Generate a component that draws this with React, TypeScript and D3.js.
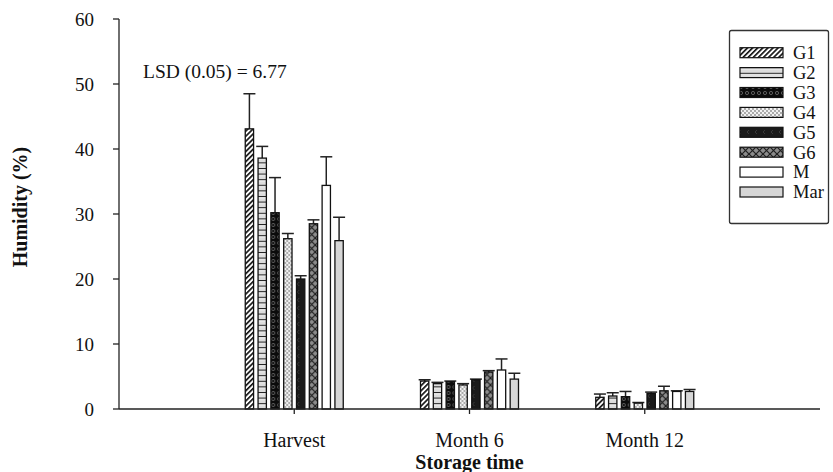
import React from 'react';
import * as d3 from 'd3';

// storage times on the x axis
const categories = ['Harvest', 'Month 6', 'Month 12'];
const seriesNames = ['G1', 'G2', 'G3', 'G4', 'G5', 'G6', 'M', 'Mar'];

// mean humidity (%) per series, one array per storage time
const harvestMeans = [43.1, 38.6, 30.2, 26.2, 20.0, 28.5, 34.4, 25.9];
const month6Means = [4.3, 3.9, 4.2, 3.7, 4.5, 5.7, 6.0, 4.6];
const month12Means = [1.8, 2.0, 1.9, 0.9, 2.4, 2.8, 2.7, 2.7];

// error bar length (upper half only)
const harvestErrors = [5.4, 1.8, 5.4, 0.8, 0.5, 0.6, 4.4, 3.6];
const month6Errors = [0.2, 0.2, 0.1, 0.2, 0.1, 0.2, 1.7, 0.9];
const month12Errors = [0.5, 0.5, 0.8, 0.1, 0.2, 0.7, 0.1, 0.3];

const yTicks = [0, 10, 20, 30, 40, 50, 60];
const lsdLabel = 'LSD (0.05) = 6.77';

const W = 833;
const H = 472;
const FONT = "'Liberation Serif', 'DejaVu Serif', serif";

const fills: Record<string, string> = {
  G1: 'url(#p-g1)',
  G2: 'url(#p-g2)',
  G3: 'url(#p-g3)',
  G4: 'url(#p-g4)',
  G5: 'url(#p-g5)',
  G6: 'url(#p-g6)',
  M: '#ffffff',
  Mar: '#d6d6d6',
};

function Patterns() {
  return (
    <defs>
      <pattern id="p-g1" width={3.6} height={3.6} patternUnits="userSpaceOnUse" patternTransform="rotate(45)">
        <rect width={3.6} height={3.6} fill="#fff" />
        <line x1={0.8} y1={0} x2={0.8} y2={3.6} stroke="#111" strokeWidth={1.7} />
      </pattern>
      <pattern id="p-g2" width={10} height={5.6} patternUnits="userSpaceOnUse">
        <rect width={10} height={5.6} fill="#dcdcdc" />
        <line x1={0} y1={0.6} x2={10} y2={0.6} stroke="#111" strokeWidth={1.1} />
        <line x1={0} y1={1.7} x2={10} y2={1.7} stroke="#fff" strokeWidth={0.9} />
      </pattern>
      <pattern id="p-g3" width={6} height={6} patternUnits="userSpaceOnUse">
        <rect width={6} height={6} fill="#0b0b0b" />
        <circle cx={3} cy={3} r={1.6} fill="none" stroke="#6e6e6e" strokeWidth={0.8} />
      </pattern>
      <pattern id="p-g4" width={4} height={4} patternUnits="userSpaceOnUse">
        <rect width={4} height={4} fill="#f2f2f2" />
        <circle cx={1} cy={1} r={0.9} fill="#8a8a8a" />
        <circle cx={3} cy={3} r={0.9} fill="#8a8a8a" />
      </pattern>
      <pattern id="p-g5" width={8} height={8} patternUnits="userSpaceOnUse">
        <rect width={8} height={8} fill="#1a1a1a" />
        <path d="M5,2 L3,4 L5,6" fill="none" stroke="#3c3c3c" strokeWidth={0.9} />
      </pattern>
      <pattern id="p-g6" width={7} height={7} patternUnits="userSpaceOnUse">
        <rect width={7} height={7} fill="#8c8c8c" />
        <line x1={0} y1={0} x2={7} y2={7} stroke="#1e1e1e" strokeWidth={1.2} />
        <line x1={7} y1={0} x2={0} y2={7} stroke="#1e1e1e" strokeWidth={1.2} />
      </pattern>
    </defs>
  );
}

export default function App() {
  const margin = { left: 119, right: 820, top: 19, bottom: 409 };

  const groups = [
    { cat: categories[0], means: harvestMeans, errs: harvestErrors },
    { cat: categories[1], means: month6Means, errs: month6Errors },
    { cat: categories[2], means: month12Means, errs: month12Errors },
  ];

  // categories sit on the inner boundaries of four equal slots
  const x = d3
    .scalePoint<string>()
    .domain(['_start', ...categories, '_end'])
    .range([margin.left, margin.right]);

  const xInner = d3
    .scaleBand<string>()
    .domain(seriesNames)
    .range([-49, 49])
    .paddingInner(0.35);

  const y = d3.scaleLinear().domain([0, 60]).range([margin.bottom, margin.top]);

  const bw = xInner.bandwidth();
  const capHalf = 6;

  return (
    <svg
      width={W}
      height={H}
      style={{ position: 'absolute', left: 0, top: 0, background: '#fff', fontFamily: FONT }}
    >
      <Patterns />

      {/* bars + error bars */}
      {groups.map((g) => (
        <g key={g.cat} transform={`translate(${x(g.cat)},0)`}>
          {seriesNames.map((s, i) => {
            const bx = xInner(s)!;
            const top = y(g.means[i]);
            const errTop = y(g.means[i] + g.errs[i]);
            const cx = bx + bw / 2;
            return (
              <g key={s}>
                <line x1={cx} x2={cx} y1={top} y2={errTop} stroke="#222" strokeWidth={1.5} />
                <line x1={cx - capHalf} x2={cx + capHalf} y1={errTop} y2={errTop} stroke="#222" strokeWidth={1.5} />
                <rect
                  x={bx}
                  y={top}
                  width={bw}
                  height={y(0) - top}
                  fill={fills[s]}
                  stroke="#111"
                  strokeWidth={1.3}
                />
              </g>
            );
          })}
        </g>
      ))}

      {/* y axis */}
      <line x1={margin.left} x2={margin.left} y1={margin.top} y2={margin.bottom} stroke="#222" strokeWidth={1.3} />
      {yTicks.map((t) => (
        <g key={t}>
          <line x1={margin.left - 6} x2={margin.left} y1={y(t)} y2={y(t)} stroke="#222" strokeWidth={1.3} />
          <text x={94} y={y(t) + 6.5} textAnchor="end" fontSize={19} fill="#111">
            {t}
          </text>
        </g>
      ))}

      {/* x axis */}
      <line x1={margin.left} x2={margin.right} y1={margin.bottom} y2={margin.bottom} stroke="#222" strokeWidth={1.5} />
      {categories.map((c) => (
        <g key={c}>
          <line x1={x(c)} x2={x(c)} y1={margin.bottom} y2={margin.bottom + 5} stroke="#222" strokeWidth={1.3} />
          <text x={x(c)} y={447} textAnchor="middle" fontSize={20} fill="#111">
            {c}
          </text>
        </g>
      ))}

      <text x={x('Month 6')} y={469} textAnchor="middle" fontSize={20} fontWeight="bold" fill="#111">
        Storage time
      </text>
      <text transform="translate(27,207) rotate(-90)" textAnchor="middle" fontSize={20} fontWeight="bold" fill="#111">
        Humidity (%)
      </text>

      <text x={143} y={78} fontSize={19.5} fill="#111">
        {lsdLabel}
      </text>

      {/* legend */}
      <rect x={729.5} y={30.5} width={99} height={193} fill="#fff" stroke="#333" strokeWidth={1.3} rx={2} />
      {seriesNames.map((s, i) => {
        const cy = 52.7 + i * 19.9;
        return (
          <g key={s}>
            <rect x={740} y={cy - 5} width={43} height={10} fill={fills[s]} stroke="#111" strokeWidth={1.2} />
            <text x={793} y={cy + 6.3} fontSize={18.5} fill="#111">
              {s}
            </text>
          </g>
        );
      })}
    </svg>
  );
}
